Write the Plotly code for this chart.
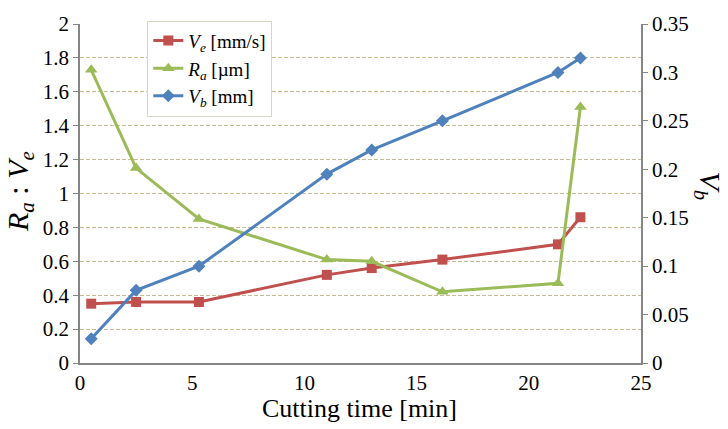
import plotly.graph_objects as go

time_min = [0.5, 2.5, 5.3, 11, 13, 16.15, 21.3, 22.3]
ve_mm_s = [0.35, 0.36, 0.36, 0.52, 0.56, 0.61, 0.70, 0.86]
ra_um = [1.73, 1.15, 0.85, 0.61, 0.60, 0.42, 0.47, 1.51]
vb_mm = [0.025, 0.075, 0.10, 0.195, 0.22, 0.25, 0.30, 0.315]

FONT = "Liberation Serif"
RED, GREEN, BLUE = "#c0504d", "#9bbb59", "#4f81bd"
AXIS = "#868686"
GRID = "#c4bc96"

fig = go.Figure()
fig.add_trace(go.Scatter(x=time_min, y=ve_mm_s, mode="lines+markers",
                         name="<i>V<sub>e</sub></i> [mm/s]",
                         line=dict(color=RED, width=3),
                         marker=dict(symbol="square", size=10, color=RED)))
fig.add_trace(go.Scatter(x=time_min, y=ra_um, mode="lines+markers",
                         name="<i>R<sub>a</sub></i> [µm]",
                         line=dict(color=GREEN, width=3),
                         marker=dict(symbol="triangle-up", size=11, color=GREEN)))
fig.add_trace(go.Scatter(x=time_min, y=vb_mm, mode="lines+markers",
                         name="<i>V<sub>b</sub></i> [mm]", yaxis="y2",
                         line=dict(color=BLUE, width=3),
                         marker=dict(symbol="diamond", size=10, color=BLUE)))

fig.update_layout(
    width=728, height=429,
    margin=dict(l=80, r=87, t=15, b=66),
    paper_bgcolor="white", plot_bgcolor="white",
    font=dict(family=FONT, size=21, color="black"),
    showlegend=True,
    legend=dict(x=0.12, y=1.01, xanchor="left", yanchor="top",
                bgcolor="white", bordercolor="#d7d7c4", borderwidth=1,
                font=dict(family=FONT, size=19, color="black"),
                tracegroupgap=0, itemwidth=30),
    xaxis=dict(range=[0, 25], dtick=5, showgrid=False, zeroline=False,
               showline=True, linecolor=AXIS, linewidth=1.5,
               ticks="", tickfont=dict(family=FONT, size=21, color="black")),
    yaxis=dict(range=[0, 2], dtick=0.2, showgrid=True, gridcolor=GRID,
               griddash="4px,2px", gridwidth=1.2, zeroline=False,
               showline=True, linecolor=AXIS, linewidth=1.5,
               ticks="outside", ticklen=5, tickcolor=AXIS,
               tickfont=dict(family=FONT, size=21, color="black")),
    yaxis2=dict(range=[0, 0.35], dtick=0.05, overlaying="y", side="right",
                showgrid=False, zeroline=False,
                showline=True, linecolor=AXIS, linewidth=1.5,
                ticks="outside", ticklen=5, tickcolor=AXIS,
                tickfont=dict(family=FONT, size=21, color="black")),
)

fig.add_annotation(text="Cutting time [min]", xref="paper", yref="paper",
                   x=0.499, y=-0.135, xanchor="center", yanchor="middle",
                   showarrow=False, font=dict(family=FONT, size=26, color="black"))
fig.add_annotation(text="<i>R<sub>a</sub></i> : <i>V<sub>e</sub></i>",
                   xref="paper", yref="paper", x=-0.106, y=0.506,
                   xanchor="center", yanchor="middle", textangle=-90,
                   showarrow=False, font=dict(family=FONT, size=30, color="black"))
fig.add_annotation(text="<i>V<sub>b</sub></i>",
                   xref="paper", yref="paper", x=1.12, y=0.523,
                   xanchor="center", yanchor="middle", textangle=90,
                   showarrow=False, font=dict(family=FONT, size=30, color="black"))

fig.write_html("out.html")
